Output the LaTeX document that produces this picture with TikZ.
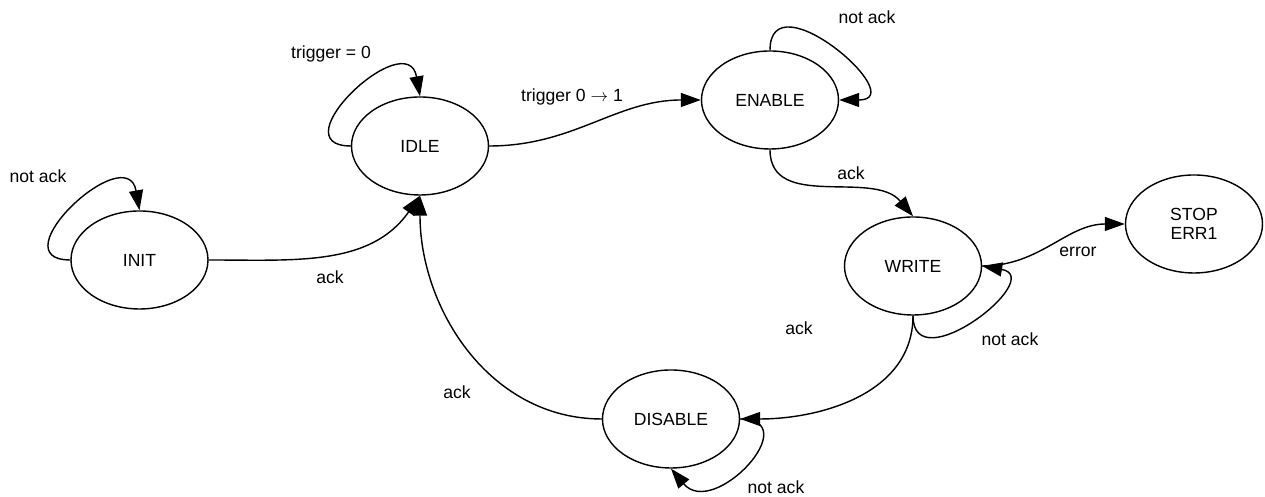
\documentclass[tikz,border=0pt]{standalone}
\usepackage{fontspec}
\setmainfont{Liberation Sans}
\usetikzlibrary{arrows.meta,shapes.geometric}
\begin{document}
\begin{tikzpicture}
\tikzset{
    estado/.style={draw, ellipse, line width=0.8pt, minimum width=2.74cm, minimum height=1.96cm, inner sep=0pt, align=center, font=\fontsize{10}{11}\selectfont},
    etiqueta/.style={text centered, font=\fontsize{10}{11}\selectfont},
    transicion/.style={line width=0.8pt, -{Triangle[length=0.4cm,width=0.28cm]}}
}
\useasboundingbox (0,0) rectangle (25.30,9.94);
\node[estado] (init) at (2.79,4.74) {INIT};
\node[estado] (idle) at (8.40,7.02) {IDLE};
\node[estado] (enable) at (15.40,7.94) {ENABLE};
\node[estado] (write) at (18.26,4.62) {WRITE};
\node[estado] (stop) at (23.88,5.46) {STOP\\ERR1};
\node[estado] (disable) at (13.42,1.56) {DISABLE};
\draw[transicion] (init.west) to[out=180,in=100,looseness=2.2] (init.north);
\draw[transicion] (idle.west) to[out=180,in=100,looseness=2.2] (idle.north);
\draw[transicion] (enable.north) to[out=90,in=0,looseness=2.2] (enable.east);
\draw[transicion] (write.south) to[out=-90,in=-10,looseness=2] (write.east);
\draw[transicion] (disable.east) to[out=0,in=-50,looseness=2] (disable.south);
\draw[transicion] (init.east) to[out=0,in=-125] (idle.south);
\draw[transicion] (idle.east) to[out=0,in=180] (enable.west);
\draw[transicion] (enable.south) to[out=-90,in=130] (write.north);
\draw[transicion] (write.east) to[out=0,in=180] (stop.west);
\draw[transicion] (write.south) to[out=-90,in=0] (disable.east);
\draw[transicion] (disable.west) to[out=180,in=-90] (idle.south);
\node[etiqueta] (l1) at (0.76,6.42) {not ack};
\node[etiqueta] (l2) at (6.60,4.40) {ack};
\node[etiqueta] (l3) at (6.62,8.86) {trigger = 0};
\node[etiqueta] (l4) at (11.44,8.00) {trigger 0 $\rightarrow$ 1};
\node[etiqueta] (l5) at (17.34,9.60) {not ack};
\node[etiqueta] (l6) at (17.02,6.48) {ack};
\node[etiqueta] (l7) at (21.56,4.90) {error};
\node[etiqueta] (l8) at (20.20,3.16) {not ack};
\node[etiqueta] (l9) at (15.98,3.38) {ack};
\node[etiqueta] (l10) at (9.14,2.10) {ack};
\node[etiqueta] (l11) at (15.52,0.20) {not ack};
\end{tikzpicture}
\end{document}
